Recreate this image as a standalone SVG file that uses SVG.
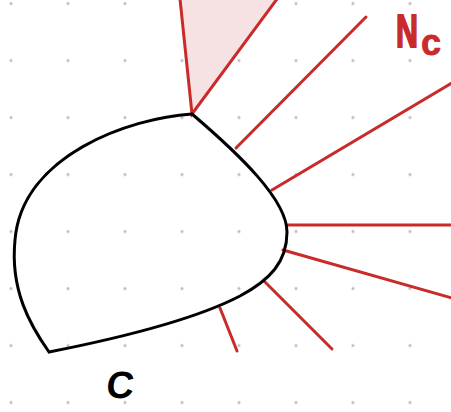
<svg xmlns="http://www.w3.org/2000/svg" width="451" height="412" viewBox="0 0 451 412">
<defs>
<pattern id="grid" x="11" y="3.5" width="57" height="57" patternUnits="userSpaceOnUse">
<circle cx="0" cy="0" r="1.6" fill="#bdbdbd"/>
<circle cx="57" cy="0" r="1.6" fill="#bdbdbd"/>
<circle cx="0" cy="57" r="1.6" fill="#bdbdbd"/>
<circle cx="57" cy="57" r="1.6" fill="#bdbdbd"/>
</pattern>
</defs>
<style>
.ray{stroke:#c92a2a;stroke-width:3;fill:none;stroke-linecap:round}
.shape{stroke:#000;stroke-width:3;fill:none;stroke-linejoin:miter}
.lbl{font-family:"Liberation Sans",Arial,sans-serif;font-weight:bold}
</style>
<rect x="0" y="0" width="451" height="412" fill="#fff"/>
<rect x="0" y="0" width="451" height="412" fill="url(#grid)"/>
<g id="cone">
<polygon points="180,0 276,0 192,114" fill="#f6e2e2" stroke="none"/>
<polyline points="180,-1 192,114 277,-1" class="ray"/>
</g>
<g id="connectors">
<line x1="236" y1="148" x2="366" y2="17" class="ray"/>
<line x1="272" y1="190" x2="452" y2="83" class="ray"/>
<line x1="287" y1="225" x2="452" y2="225" class="ray"/>
<line x1="283" y1="250" x2="452" y2="298" class="ray"/>
<line x1="264" y1="281" x2="332" y2="349" class="ray"/>
<line x1="220" y1="308" x2="237" y2="351" class="ray"/>
</g>
<g id="C">
<path class="shape" d="M192,114 C130,118 22,155 15,240 C10,290 30,325 49,352 C110,340 190,322 240,296 C270,280 287,262 287,232 C287,200 240,155 192,114 Z"/>
<text class="lbl" x="106" y="398" font-size="38" fill="#000" transform="skewX(-6) translate(41,0)">C</text>
</g>
<g id="Nc">
<text class="lbl" transform="translate(396,47) scale(0.66,1)" font-size="46" fill="#c92a2a" stroke="#c92a2a" stroke-width="2">N</text>
<text class="lbl" x="421" y="55" font-size="36" fill="#c92a2a" stroke="#c92a2a" stroke-width="0.8">c</text>
</g>
</svg>
